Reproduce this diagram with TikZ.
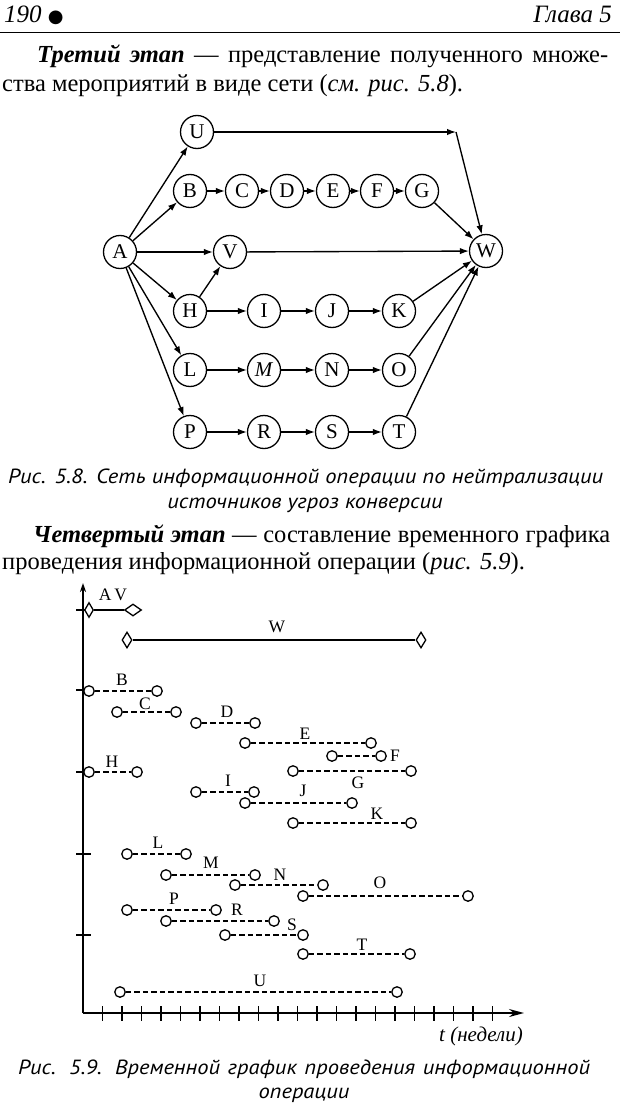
\documentclass[tikz,border=0pt]{standalone}
\usepackage{fontspec}
\setmainfont{Liberation Serif}
\newfontfamily\capfont{PT Sans}[FakeStretch=1.1]
\newfontfamily\symfont{DejaVu Sans}
\usetikzlibrary{arrows.meta,shapes.geometric}
\newcommand\ganttrow[4]{%
  \node[gc] (#1s) at (#2,#4) {};
  \node[gc] (#1e) at (#3,#4) {};
  \draw[gd] (#1s) -- (#1e);}
\begin{document}
\begin{tikzpicture}[x=1pt,y=-1pt,
  txt/.style={anchor=base west,inner sep=0pt,font=\fontsize{24.5}{28}\selectfont},
  captxt/.style={anchor=base west,inner sep=0pt,font=\capfont\itshape\fontsize{20.5}{24}\selectfont},
  nd/.style={circle,draw,line width=1.3pt,minimum size=33pt,inner sep=0pt,font=\fontsize{21}{21}\selectfont},
  arr/.style={line width=1.35pt,-{Latex[length=9pt,width=6.5pt]}},
  gc/.style={circle,draw,fill=white,minimum size=10.5pt,inner sep=0pt,line width=1.3pt},
  gd/.style={line width=1.4pt,dash pattern=on 5.5pt off 3pt},
  dm/.style={diamond,draw,fill=white,minimum width=10pt,minimum height=16pt,inner sep=0pt,line width=1.3pt},
  gl/.style={inner sep=0pt,font=\fontsize{17.5}{17.5}\selectfont},
  axis/.style={line width=1.6pt},
  tick/.style={line width=1.3pt}]
\useasboundingbox (0,0) rectangle (620,1105);
% header
\node[txt,font=\itshape\fontsize{25}{28}\selectfont] (pg) at (4,23) {190 {\upshape\symfont\fontsize{18}{18}\selectfont ●}};
\node[txt,anchor=base east,font=\itshape\fontsize{25}{28}\selectfont] (ch) at (612,23) {Глава 5};
\draw[line width=1pt] (0,33) -- (620,33);
% paragraph 1
\node[txt] (l1) at (37,63) {\makebox[571pt][s]{\textbf{\textit{Третий этап}} — представление полученного множе-}};
\node[txt] (l2) at (2,92) {ства мероприятий в виде сети (\textit{см. рис. 5.8}).};
% network
\node[nd] (U) at (197,132) {U};
\node[nd] (B) at (190,191) {B};
\node[nd] (C) at (242,191) {C};
\node[nd] (D) at (287,191) {D};
\node[nd] (E) at (333,191) {E};
\node[nd] (F) at (377,191) {F};
\node[nd] (G) at (422,191) {G};
\node[nd] (A) at (120,252) {A};
\node[nd] (V) at (230,252) {V};
\node[nd] (W) at (486,251) {W};
\node[nd] (H) at (190,311) {H};
\node[nd] (I) at (264,311) {I};
\node[nd] (J) at (332,311) {J};
\node[nd] (K) at (399,311) {K};
\node[nd] (L) at (190,370) {L};
\node[nd] (M) at (264,370) {\textit{M}};
\node[nd] (N) at (332,370) {N};
\node[nd] (O) at (399,370) {O};
\node[nd] (P) at (190,432) {P};
\node[nd] (R) at (264,432) {R};
\node[nd] (S) at (332,432) {S};
\node[nd] (T) at (399,432) {T};
\coordinate (uw) at (456,132);
\draw[arr] (A) -- (U);
\draw[arr] (A) -- (B);
\draw[arr] (A) -- (V);
\draw[arr] (A) -- (H);
\draw[arr] (A) -- (L);
\draw[arr] (A) -- (P);
\draw[arr] (H) -- (V);
\draw[arr] (U) -- (uw);
\draw[arr] (uw) -- (W);
\draw[arr] (B) -- (C);
\draw[arr] (C) -- (D);
\draw[arr] (D) -- (E);
\draw[arr] (E) -- (F);
\draw[arr] (F) -- (G);
\draw[arr] (G) -- (W);
\draw[arr] (V) -- (W);
\draw[arr] (H) -- (I);
\draw[arr] (I) -- (J);
\draw[arr] (J) -- (K);
\draw[arr] (K) -- (W);
\draw[arr] (L) -- (M);
\draw[arr] (M) -- (N);
\draw[arr] (N) -- (O);
\draw[arr] (O) -- (W);
\draw[arr] (P) -- (R);
\draw[arr] (R) -- (S);
\draw[arr] (S) -- (T);
\draw[arr] (T) -- (W);
% caption 5.8
\node[captxt] (c1) at (8,483) {\makebox[595pt][s]{Рис. 5.8. Сеть информационной операции по нейтрализации}};
\node[captxt,anchor=base] (c2) at (305,508) {источников угроз конверсии};
% paragraph 2
\node[txt] (l3) at (33,542) {\makebox[577pt][s]{\textbf{\textit{Четвертый этап}} — составление временного графика}};
\node[txt] (l4) at (2,569) {проведения информационной операции (\textit{рис. 5.9}).};
% gantt axes
\coordinate (org) at (83,1013);
\coordinate (ytop) at (83,583);
\coordinate (xend) at (524,1013);
\draw[axis,-{Stealth[length=9pt,width=6pt]}] (org) -- (ytop);
\draw[axis,-{Stealth[length=15pt,width=8pt]}] (org) -- (xend);
\foreach \k in {1,...,21} \draw[tick] ({83+19.5*\k},1006) -- ++(0,15);
\foreach \yy in {610,690,772,854,935} \draw[tick] (76,\yy) -- (91,\yy);
\node[anchor=base,inner sep=0pt,font=\itshape\fontsize{21}{21}\selectfont] (tl) at (481,1041) {t (недели)};
% AV and W
\node[dm,minimum height=15pt,minimum width=9pt] (AVs) at (89,610) {};
\node[dm,minimum width=17pt,minimum height=12pt] (AVe) at (133,610) {};
\draw[line width=1.3pt] (AVs) -- (AVe);
\node[dm] (Ws) at (127,640) {};
\node[dm] (We) at (421,640) {};
\draw[line width=1.3pt] (Ws) -- (We);
% rows
\ganttrow{B}{89}{157}{691}
\ganttrow{C}{117}{176}{712}
\ganttrow{D}{196}{255}{723}
\ganttrow{E}{245}{371}{743}
\ganttrow{F}{332}{381}{756}
\ganttrow{H}{89}{137}{772}
\ganttrow{G}{293}{411}{771}
\ganttrow{I}{196}{254}{792}
\ganttrow{J}{245}{352}{803}
\ganttrow{K}{293}{411}{823}
\ganttrow{L}{127}{186}{854}
\ganttrow{M}{166}{255}{875}
\ganttrow{N}{235}{323}{885}
\ganttrow{O}{303}{468}{896}
\ganttrow{P}{127}{216}{910}
\ganttrow{R}{166}{274}{921}
\ganttrow{S}{225}{303}{935}
\ganttrow{T}{303}{410}{954}
\ganttrow{U}{120}{397}{992}
% labels
\node[gl] (gAV) at (113,595) {A\,V};
\node[gl] (gW) at (277,627) {W};
\node[gl] (gB) at (122,680) {B};
\node[gl] (gC) at (145,704) {C};
\node[gl] (gD) at (227,712) {D};
\node[gl] (gE) at (305,734) {E};
\node[gl] (gF) at (395,756) {F};
\node[gl] (gH) at (112,762) {H};
\node[gl] (gG) at (358,783) {G};
\node[gl] (gI) at (228,781) {I};
\node[gl] (gJ) at (303,791) {J};
\node[gl] (gK) at (377,814) {K};
\node[gl] (gL) at (158,843) {L};
\node[gl] (gM) at (211,863) {M};
\node[gl] (gN) at (280,875) {N};
\node[gl] (gO) at (380,883) {O};
\node[gl] (gP) at (174,899) {P};
\node[gl] (gR) at (237,910) {R};
\node[gl] (gS) at (292,925) {S};
\node[gl] (gT) at (362,945) {T};
\node[gl] (gU) at (260,981) {U};
% caption 5.9
\node[captxt] (c3) at (18,1074) {\makebox[572pt][s]{Рис. 5.9. Временной график проведения информационной}};
\node[captxt,anchor=base] (c4) at (304,1098) {операции};
\end{tikzpicture}
\end{document}
